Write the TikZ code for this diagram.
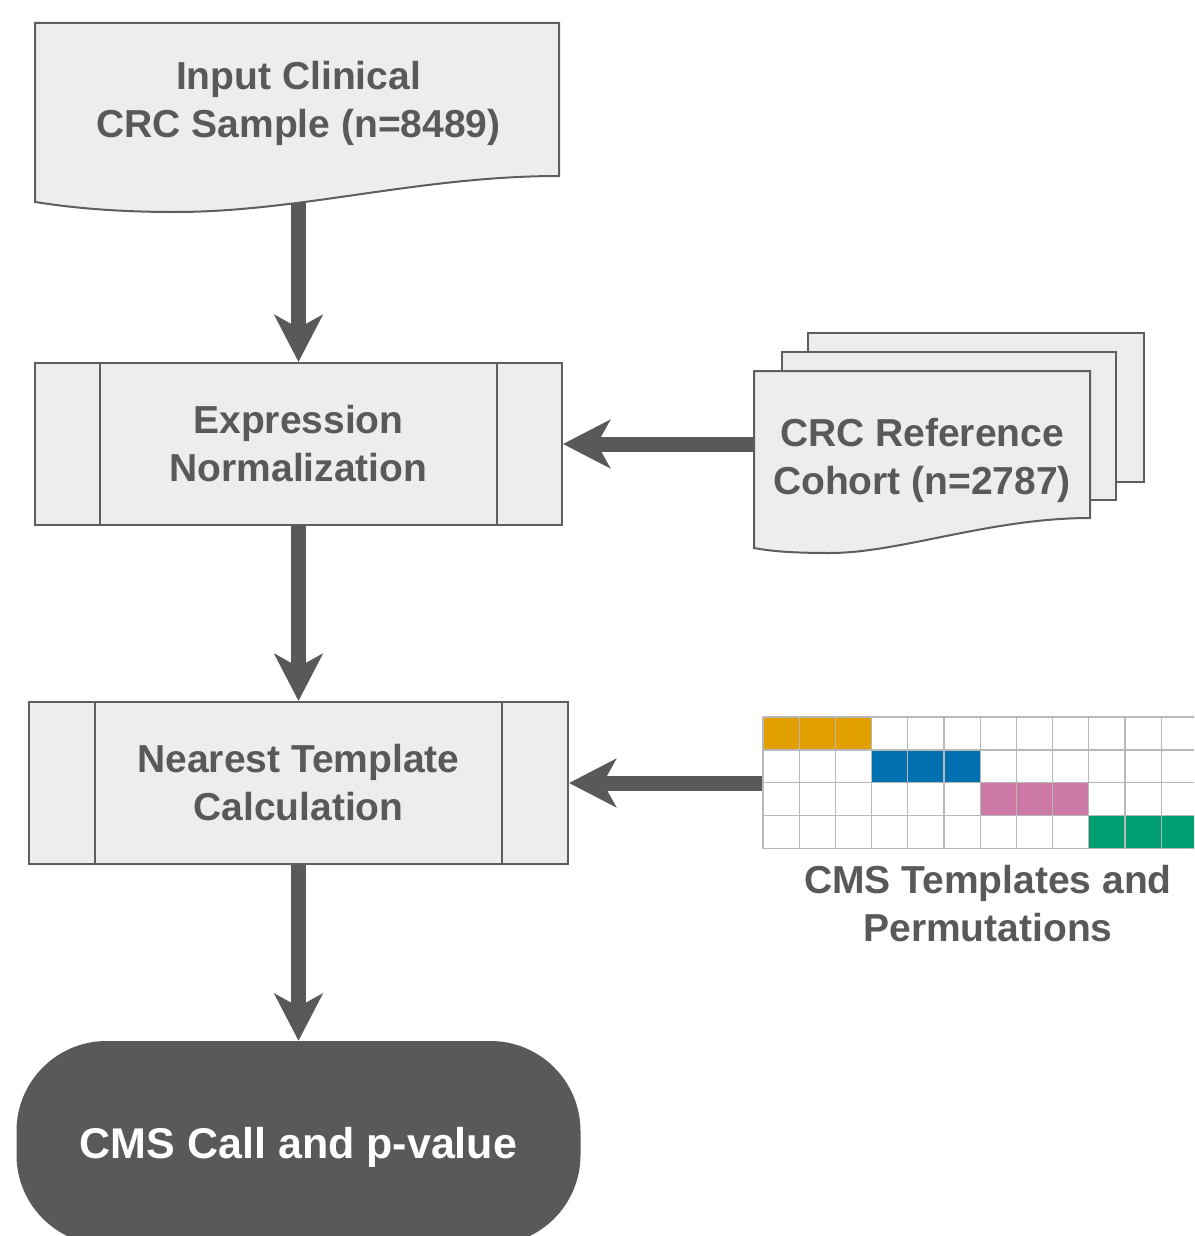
\documentclass[tikz,border=0pt]{standalone}
\usepackage{fontspec}
\setmainfont{Liberation Sans}
\usetikzlibrary{arrows.meta}

\definecolor{ink}{HTML}{595959}
\definecolor{paper}{HTML}{EDEDED}
\definecolor{edge}{HTML}{5E5E5E}
\definecolor{gridline}{HTML}{B8B8B8}
\definecolor{cmsone}{HTML}{E1A000}
\definecolor{cmstwo}{HTML}{0070B0}
\definecolor{cmsthree}{HTML}{CC79A7}
\definecolor{cmsfour}{HTML}{009E73}

\pgfdeclarelayer{back}
\pgfsetlayers{back,main}

\begin{document}
\begin{tikzpicture}[x=1pt,y=-1pt,
  label text/.style={font=\bfseries\fontsize{39}{48}\selectfont, text=ink, align=center},
  shape edge/.style={draw=edge, line width=2pt, fill=paper},
  process/.style={shape edge, rectangle, minimum height=162pt, inner sep=0pt, label text},
  edge line/.style={draw=edge, line width=2pt},
  flow/.style={draw=ink, line width=15pt, -{Stealth[length=47pt,width=48pt,inset=13pt]}},
  cell line/.style={draw=gridline, line width=1.3pt},
]
\useasboundingbox (0,0) rectangle (1194,1236);
\clip (0,0) rectangle (1194,1236);

% input document
\path[shape edge] (35,23) -- (559,23) -- (559,176)
  .. controls (420,176) and (300,212) .. (175,212)
  .. controls (100,212) and (55,205) .. (35,202) -- cycle;
\node[label text] (input) at (298.5,103) {Input Clinical\\CRC Sample (n=8489)};

% predefined processes
\node[process, minimum width=527pt] (norm) at (298.5,444) {Expression\\Normalization};
\draw[edge line] ([xshift=66pt]norm.north west) -- ([xshift=66pt]norm.south west);
\draw[edge line] ([xshift=-66pt]norm.north east) -- ([xshift=-66pt]norm.south east);

\node[process, minimum width=539pt] (tmpl) at (298.5,783) {Nearest Template\\Calculation};
\draw[edge line] ([xshift=67pt]tmpl.north west) -- ([xshift=67pt]tmpl.south west);
\draw[edge line] ([xshift=-67pt]tmpl.north east) -- ([xshift=-67pt]tmpl.south east);

% terminal
\node[fill=ink, rounded corners=90pt, minimum width=564pt, minimum height=204pt,
  inner sep=0pt, text=white, font=\bfseries\fontsize{43}{50}\selectfont,
  text height=30pt, text depth=0pt] (call) at (298.5,1143) {CMS Call and p-value};

% reference cohort: stacked documents
\path[shape edge] (808,333) rectangle (1144,482);
\path[shape edge] (782,352) rectangle (1116,500);
\path[shape edge] (754,371) -- (1090,371) -- (1090,518)
  .. controls (990,518) and (900,553) .. (830,553)
  .. controls (790,553) and (770,551) .. (754,548) -- cycle;
\node[label text] (cohort) at (922,460) {CRC Reference\\Cohort (n=2787)};

% CMS templates grid
\node[minimum width=434.4pt, minimum height=131.6pt, inner sep=0pt, anchor=north west] (templates) at (763,717) {};
\fill[cmsone]   (templates.north west) ++(0,0)       rectangle ++(108.6,32.9);
\fill[cmstwo]   (templates.north west) ++(108.6,32.9) rectangle ++(108.6,32.9);
\fill[cmsthree] (templates.north west) ++(217.2,65.8) rectangle ++(108.6,32.9);
\fill[cmsfour]  (templates.north west) ++(325.8,98.7) rectangle ++(108.6,32.9);
\foreach \c in {0,...,12}
  \draw[cell line] ([xshift=\c*36.2pt]templates.north west) -- ([xshift=\c*36.2pt]templates.south west);
\foreach \r in {0,...,4}
  \draw[cell line] ([yshift=-\r*32.9pt]templates.north west) -- ([yshift=-\r*32.9pt]templates.north east);
\node[label text] (tmpllabel) at (988,904) {CMS Templates and\\Permutations};

% connectors
\begin{pgfonlayer}{back}
  \draw[flow] (input.south) -- (norm.north);
  \draw[flow] (norm.south) -- (tmpl.north);
  \draw[flow] (tmpl.south) -- (call.north);
  \draw[flow] (norm.east -| cohort.west) -- (norm.east);
  \draw[flow] (tmpl.east -| templates.west) -- (tmpl.east);
\end{pgfonlayer}
\end{tikzpicture}
\end{document}
